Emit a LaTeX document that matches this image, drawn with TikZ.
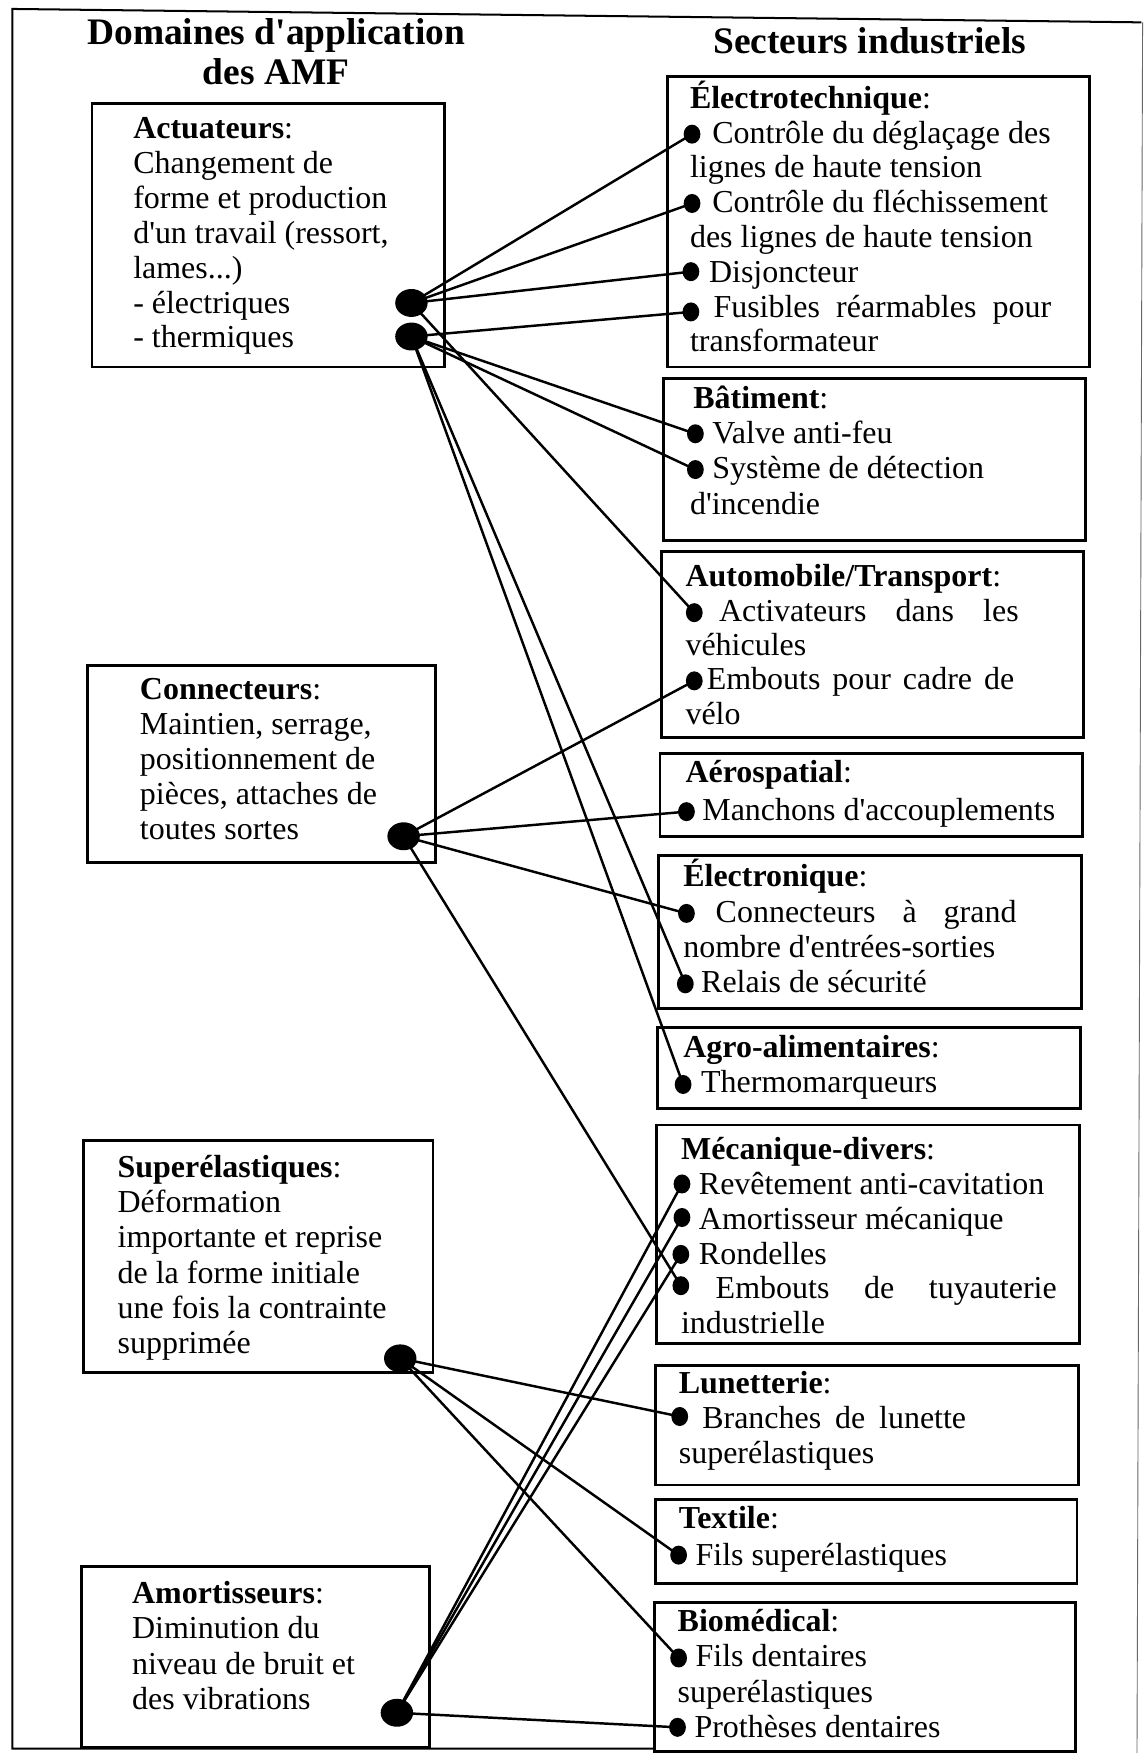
\documentclass[tikz,border=0pt]{standalone}
\usepackage{fontspec}
\setmainfont{Liberation Serif}[Ligatures=TeXOff]
\usetikzlibrary{shapes.geometric}
\newcommand{\bodyfont}{\fontsize{28.6}{31}\selectfont}
\newcommand{\titlefont}{\fontsize{33.5}{35}\selectfont\bfseries}
\newcommand{\hd}[1]{\textbf{#1}:}
\newcommand{\tb}[2]{\parbox[t]{380pt}{\fontsize{28.6}{#1}\selectfont\raggedright #2}}
\newcommand{\jl}[2]{\makebox[#1pt][s]{#2}}
\tikzset{
  boxr/.style={draw, line width=2.6pt, rectangle, inner sep=0pt, anchor=north west},
  txt/.style={anchor=base west, inner sep=0pt, font=\bodyfont},
  bigdot/.style={ellipse, fill=black, inner sep=0pt, minimum width=29pt, minimum height=25pt},
  smalldot/.style={ellipse, fill=black, inner sep=0pt, minimum width=15pt, minimum height=17pt},
  link/.style={line width=2.2pt},
  ttl/.style={font=\titlefont, anchor=base, inner sep=0pt}
}
\begin{document}
\begin{tikzpicture}[x=1pt,y=-1pt]
\useasboundingbox (0,0) rectangle (1024,1568);
% frame
\draw[line width=1.8pt] (1021,20) -- (11,8) -- (11,1564) -- (584,1564);
\draw[line width=0.8pt, black!60] (1022,20) -- (1017,1568);
% titles
\node[ttl] (T1a) at (247,40) {Domaines d'application};
\node[ttl] (T1b) at (247,76) {des AMF};
\node[ttl] (T2) at (778,47.5) {Secteurs industriels};
% left boxes
\node[boxr, minimum width=315pt, minimum height=236pt] (L1) at (81,91) {};
\node[boxr, minimum width=311pt, minimum height=176pt] (L2) at (77,594) {};
\node[boxr, minimum width=313pt, minimum height=207pt] (L3) at (73,1019) {};
\node[boxr, minimum width=311pt, minimum height=162pt] (L4) at (72,1400) {};
\node[txt] (L1t) at (119,124) {\tb{31.2}{\hd{Actuateurs}\\ Changement de\\ forme et production\\ d'un travail (ressort,\\ lames...)\\ - électriques\\ - thermiques}};
\node[txt] (L2t) at (125,626) {\tb{31.25}{\hd{Connecteurs}\\ Maintien, serrage,\\ positionnement de\\ pièces, attaches de\\ toutes sortes}};
\node[txt] (L3t) at (105,1053) {\tb{31.6}{\hd{Superélastiques}\\ Déformation\\ importante et reprise\\ de la forme initiale\\ une fois la contrainte\\ supprimée}};
\node[txt] (L4t) at (118,1434) {\tb{31.7}{\hd{Amortisseurs}\\ Diminution du\\ niveau de bruit et\\ des vibrations}};
% right boxes
\node[boxr, minimum width=377pt, minimum height=260pt] (R1) at (596,67) {};
\node[boxr, minimum width=378pt, minimum height=145pt] (R2) at (592,337) {};
\node[boxr, minimum width=378pt, minimum height=166pt] (R3) at (590,492) {};
\node[boxr, minimum width=378pt, minimum height=74pt] (R4) at (589,673) {};
\node[boxr, minimum width=378pt, minimum height=137pt] (R5) at (588,764) {};
\node[boxr, minimum width=378pt, minimum height=72pt] (R6) at (587,918) {};
\node[boxr, minimum width=378pt, minimum height=195pt] (R7) at (586,1005) {};
\node[boxr, minimum width=378pt, minimum height=107pt] (R8) at (585,1220) {};
\node[boxr, minimum width=377pt, minimum height=75pt] (R9) at (585,1340) {};
\node[boxr, minimum width=377pt, minimum height=133pt] (R10) at (584,1432) {};
\node[txt] (R1t) at (617,97) {\tb{31.1}{\hd{Électrotechnique}\\ \hspace*{20pt}Contrôle du déglaçage des\\ lignes de haute tension\\ \hspace*{20pt}Contrôle du fléchissement\\ des lignes de haute tension\\ \hspace*{17pt}Disjoncteur\\ \hspace*{21pt}\jl{302}{Fusibles réarmables pour}\\ transformateur}};
\node[txt] (R2t) at (617,365) {\tb{31.7}{\hspace*{3pt}\hd{Bâtiment}\\ \hspace*{20pt}Valve anti-feu\\ \hspace*{20pt}Système de détection\\ d'incendie}};
\node[txt] (R3t) at (613,525) {\tb{30.7}{\hd{Automobile/Transport}\\ \hspace*{30pt}\jl{268}{Activateurs dans les}\\ véhicules\\ \hspace*{19pt}\jl{275}{Embouts pour cadre de}\\ vélo}};
\node[txt] (R4t) at (613,700) {\tb{34}{\hd{Aérospatial}\\ \hspace*{15pt}Manchons d'accouplements}};
\node[txt] (R5t) at (611,793) {\tb{31.7}{\hd{Électronique}\\ \hspace*{29pt}\jl{269}{Connecteurs à grand}\\ nombre d'entrées-sorties\\ \hspace*{16pt}Relais de sécurité}};
\node[txt] (R6t) at (611,946) {\tb{31}{\hd{Agro-alimentaires}\\ \hspace*{16pt}Thermomarqueurs}};
\node[txt] (R7t) at (609,1037) {\tb{31.2}{\hd{Mécanique-divers}\\ \hspace*{16pt}Revêtement anti-cavitation\\ \hspace*{16pt}Amortisseur mécanique\\ \hspace*{16pt}Rondelles\\ \hspace*{31pt}\jl{305}{Embouts de tuyauterie}\\ industrielle}};
\node[txt] (R8t) at (607,1246) {\tb{31.5}{\hd{Lunetterie}\\ \hspace*{21pt}\jl{236}{Branches de lunette}\\ superélastiques}};
\node[txt] (R9t) at (607,1367) {\tb{33}{\hd{Textile}\\ \hspace*{15pt}Fils superélastiques}};
\node[txt] (R10t) at (606,1459) {\tb{31.7}{\hd{Biomédical}\\ \hspace*{16pt}Fils dentaires\\ superélastiques\\ \hspace*{15pt}Prothèses dentaires}};
% left dots
\node[bigdot] (a1) at (368,271) {};
\node[bigdot] (a2) at (368,301) {};
\node[bigdot] (c) at (361,748) {};
\node[bigdot] (s) at (358,1215) {};
\node[bigdot] (am) at (355,1532) {};
% right dots
\node[smalldot] (e1) at (619,120) {};
\node[smalldot] (e2) at (619,182) {};
\node[smalldot] (e3) at (618,243) {};
\node[smalldot] (e4) at (618,279) {};
\node[smalldot] (b1) at (622,388) {};
\node[smalldot] (b2) at (622,420) {};
\node[smalldot] (t1) at (621,548) {};
\node[smalldot] (t2) at (621,609) {};
\node[smalldot] (s1) at (614,726) {};
\node[smalldot] (n1) at (614,817) {};
\node[smalldot] (n2) at (613,880) {};
\node[smalldot] (g1) at (611,970) {};
\node[smalldot] (m1) at (610,1059) {};
\node[smalldot] (m2) at (610,1089) {};
\node[smalldot] (m3) at (609,1122) {};
\node[smalldot] (m4) at (609,1150) {};
\node[smalldot] (l1) at (608,1267) {};
\node[smalldot] (x1) at (607,1391) {};
\node[smalldot] (bio1) at (607,1483) {};
\node[smalldot] (bio2) at (606,1545) {};
% connectors
\foreach \t in {e1,e2,e3,t1} \draw[link] (a1.center) -- (\t.center);
\foreach \t in {e4,b1,b2,n2,g1} \draw[link] (a2.center) -- (\t.center);
\foreach \t in {t2,s1,n1,m4} \draw[link] (c.center) -- (\t.center);
\foreach \t in {l1,x1,bio1} \draw[link] (s.center) -- (\t.center);
\foreach \t in {m1,m2,m3,bio2} \draw[link] (am.center) -- (\t.center);
\end{tikzpicture}
\end{document}
